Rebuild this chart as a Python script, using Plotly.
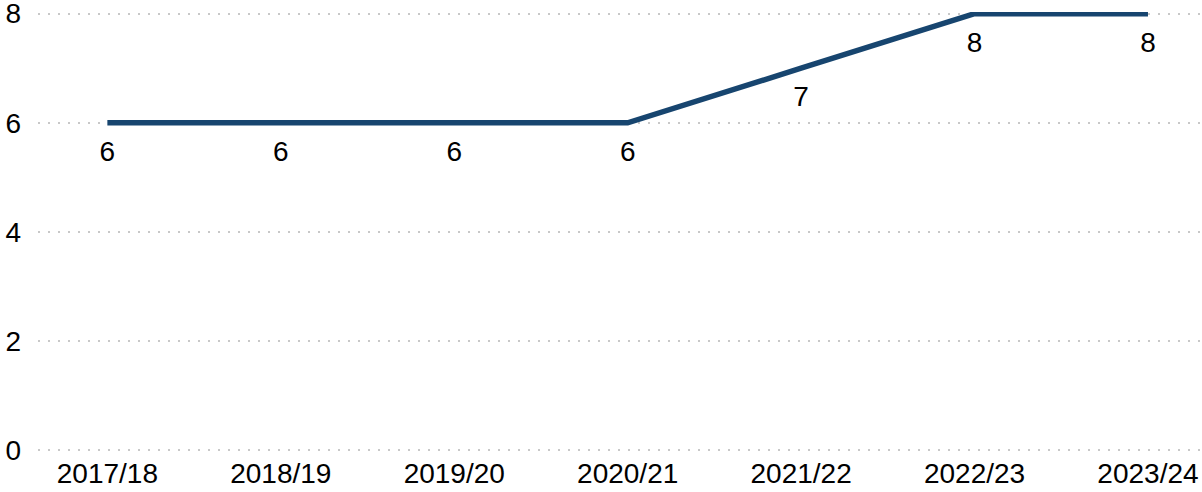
import plotly.graph_objects as go

years = ['2017/18', '2018/19', '2019/20', '2020/21', '2021/22', '2022/23', '2023/24']
values = [6, 6, 6, 6, 7, 8, 8]

fig = go.Figure()
fig.add_trace(go.Scatter(
    x=years, y=values,
    mode='lines+markers+text',
    text=[str(v) for v in values],
    textposition='bottom center',
    textfont=dict(size=28, color='#000000'),
    marker=dict(size=26, color='rgba(0,0,0,0)'),
    line=dict(color='#17456f', width=5.5),
    cliponaxis=False,
    hoverinfo='skip',
))

fig.update_layout(
    width=1202, height=492,
    margin=dict(l=38, r=2, t=12.4, b=40.4),
    plot_bgcolor='white', paper_bgcolor='white',
    font=dict(family='Liberation Sans, Arial, sans-serif', size=28, color='#000000'),
    showlegend=False,
)
fig.update_xaxes(
    type='category', range=[-0.4, 6.3], automargin=False,
    showgrid=False, showline=False, zeroline=False,
    ticks='', tickfont=dict(size=28), ticklabelstandoff=2,
    ticklabeloverflow='allow',
)
fig.update_yaxes(
    range=[-0.03, 8.03], tickvals=[0, 2, 4, 6, 8], automargin=False,
    showgrid=True, gridcolor='#c8c8c8', gridwidth=1.5, griddash='2px,8px',
    zeroline=False, showline=False, ticks='', ticklabelstandoff=16,
    tickfont=dict(size=28), ticklabeloverflow='allow',
)

# page body has a default 8px margin; drop it so the chart sits at the corner
fig.write_html('out.html', config={'displayModeBar': False},
               post_script="document.body.style.margin='0';")
